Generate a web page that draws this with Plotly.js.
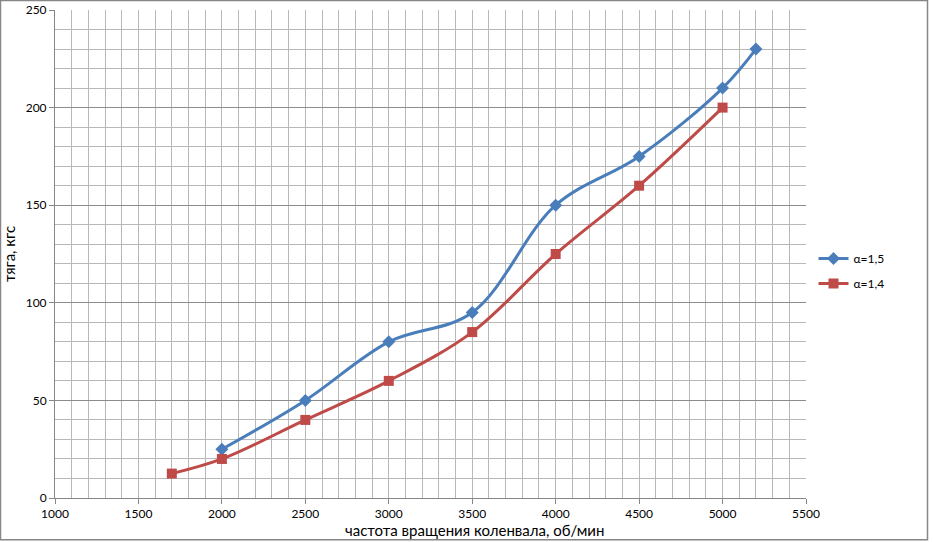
<!DOCTYPE html>
<html>
<head>
<meta charset="utf-8">
<script src="https://cdn.plot.ly/plotly-3.0.1.min.js"></script>
<style>
  html, body { margin: 0; padding: 0; background: #fff; }
  #graph { width: 933px; height: 542px; }
</style>
</head>
<body>
<div id="graph"></div>
<script>
// обороты, об/мин
const rpm15 = [2000, 2500, 3000, 3500, 4000, 4500, 5000, 5200];
const thrust15 = [25, 50, 80, 95, 150, 175, 210, 230];

const rpm14 = [1700, 2000, 2500, 3000, 3500, 4000, 4500, 5000];
const thrust14 = [12.5, 20, 40, 60, 85, 125, 160, 200];

const xTicks = [1000, 1500, 2000, 2500, 3000, 3500, 4000, 4500, 5000, 5500];
const yTicks = [0, 50, 100, 150, 200, 250];

const font = 'Lato, "Liberation Sans", sans-serif';

const traces = [
  {
    x: rpm15, y: thrust15, name: 'α=1,5', legendgroup: 'a15',
    mode: 'lines+markers', type: 'scatter',
    line: { color: '#4a7ebb', width: 3, shape: 'spline', smoothing: 1 },
    marker: { symbol: 'diamond', size: 10, color: '#4a7ebb' }
  },
  {
    x: rpm14, y: thrust14, name: 'α=1,4', legendgroup: 'a14',
    mode: 'lines+markers', type: 'scatter',
    line: { color: '#be4b48', width: 3, shape: 'spline', smoothing: 1 },
    marker: { symbol: 'square', size: 10, color: '#be4b48' }
  }
];

const layout = {
  width: 933, height: 542,
  margin: { l: 55, r: 127, t: 10, b: 44 },
  paper_bgcolor: '#fff', plot_bgcolor: '#fff',
  font: { family: font, size: 12, color: '#000' },
  showlegend: true,
  legend: {
    x: 1.01, y: 0.465, xanchor: 'left', yanchor: 'middle',
    font: { size: 12 }, tracegroupgap: 6, itemwidth: 30
  },
  xaxis: {
    range: [1000, 5500], tickvals: xTicks, ticktext: xTicks.map(String),
    showgrid: true, gridcolor: '#b8b8b8', gridwidth: 1,
    minor: { dtick: 100, showgrid: true, gridcolor: '#b8b8b8', gridwidth: 1 },
    showline: true, linecolor: '#868686', linewidth: 1,
    ticks: 'outside', ticklen: 5, tickcolor: '#868686',
    zeroline: false, tickfont: { size: 12 }
  },
  yaxis: {
    range: [0, 250], tickvals: yTicks, ticktext: yTicks.map(String),
    showgrid: true, gridcolor: '#8c8c8c', gridwidth: 1,
    minor: { dtick: 10, showgrid: true, gridcolor: '#b8b8b8', gridwidth: 1 },
    showline: true, linecolor: '#868686', linewidth: 1,
    ticks: 'outside', ticklen: 5, tickcolor: '#868686',
    zeroline: false, tickfont: { size: 12 },
    title: { text: 'тяга, кгс', font: { size: 15 }, standoff: 6 }
  },
  annotations: [
    {
      text: 'частота вращения коленвала, об/мин',
      xref: 'paper', yref: 'paper', x: 0.558, y: -0.0656,
      xanchor: 'center', yanchor: 'middle', showarrow: false,
      font: { size: 15 }
    }
  ],
  shapes: [
    {
      type: 'rect', xref: 'paper', yref: 'paper',
      x0: -0.0726, x1: 1.1618, y0: -0.0858, y1: 1.0194,
      line: { color: '#868686', width: 1.5 }, fillcolor: 'rgba(0,0,0,0)', layer: 'below'
    }
  ]
};

Plotly.newPlot('graph', traces, layout, { displayModeBar: false, staticPlot: true });
</script>
</body>
</html>
